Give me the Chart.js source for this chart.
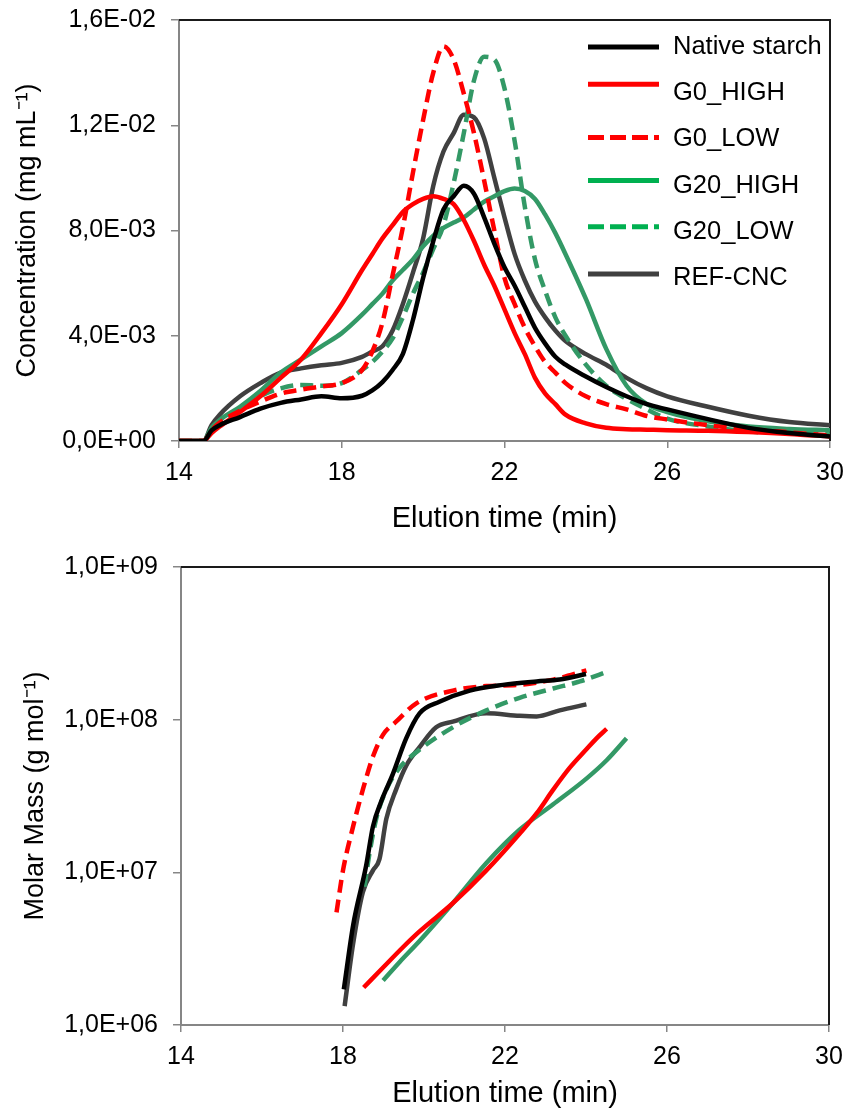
<!DOCTYPE html>
<html>
<head>
<meta charset="utf-8">
<script src="https://cdn.jsdelivr.net/npm/chart.js@4.4.1/dist/chart.umd.min.js"></script>
<style>
  body { margin: 0; background: #fff; }
  canvas { position: absolute; left: 0; }
  #conc { top: 0; }
  #mass { top: 540px; }
</style>
</head>
<body>
<canvas id="conc" width="845" height="540"></canvas>
<canvas id="mass" width="845" height="575"></canvas>
<script>
const names = ['Native starch', 'G0_HIGH', 'G0_LOW', 'G20_HIGH', 'G20_LOW', 'REF-CNC'];
const lineColors = ['#000000', '#ff0000', '#ff0000', '#339966', '#339966', '#404040'];
const keyColors = ['#000000', '#ff0000', '#ff0000', '#00b050', '#00b050', '#404040'];
const dashed = [false, false, true, false, true, false];

// concentration traces (mg/mL), one shared time grid (min)
const concTime = [14, 14.6, 14.8, 15, 15.5, 16, 16.5, 17, 17.5, 18, 18.5, 18.75, 19, 19.25, 19.5, 19.75,
  20, 20.25, 20.5, 20.75, 21, 21.25, 21.5, 21.75, 22, 22.25, 22.5, 22.75, 23, 23.25, 23.5,
  24, 24.5, 25, 25.5, 26, 27, 28, 29, 30];
const concNative = [0, 0, 0.0004, 0.0006, 0.00091, 0.00123, 0.00145, 0.00158, 0.0017, 0.00162,
  0.00172, 0.00192, 0.00224, 0.0027, 0.0033, 0.0046, 0.0062, 0.0076, 0.0088, 0.0093, 0.0097, 0.0094, 0.0085, 0.0075, 0.0066,
  0.0059, 0.0051, 0.0043, 0.0037, 0.0032, 0.0029, 0.00245, 0.00205, 0.0017, 0.0014, 0.0012, 0.00083, 0.0005, 0.0003, 0.00017];
const concG0High = [0, 0, 0.0003, 0.00055, 0.0011, 0.0017, 0.0024, 0.0031, 0.0041, 0.0052,
  0.0065, 0.0071, 0.0077, 0.0082, 0.0087, 0.009, 0.0092, 0.0093, 0.0092, 0.009, 0.0084, 0.0076, 0.0067, 0.0059, 0.005,
  0.0041, 0.0033, 0.0024, 0.0018, 0.0014, 0.001, 0.00067, 0.0005, 0.00045, 0.00043, 0.00041, 0.00039, 0.00034, 0.00027, 0.00017];
const concG0Low = [0, 0, 0.0004, 0.0007, 0.00115, 0.0015, 0.0018, 0.00195, 0.00207, 0.0022,
  0.0027, 0.0034, 0.0045, 0.0063, 0.0081, 0.0102, 0.0122, 0.014, 0.015, 0.0145, 0.0132, 0.0117, 0.0099, 0.008, 0.0062,
  0.0052, 0.0043, 0.0036, 0.003, 0.0026, 0.0022, 0.0017, 0.0014, 0.0012, 0.00095, 0.00082, 0.0006, 0.00045, 0.00033, 0.00021];
const concG20High = [0, 0, 0.0005, 0.0008, 0.0013, 0.0019, 0.0026, 0.0031, 0.0036, 0.0041,
  0.0048, 0.0052, 0.0056, 0.0061, 0.0065, 0.0069, 0.0074, 0.0078, 0.0081, 0.0083, 0.0085, 0.0088, 0.0091, 0.0093, 0.0095,
  0.0096, 0.0095, 0.0092, 0.0086, 0.0079, 0.0071, 0.0054, 0.0035, 0.0021, 0.0014, 0.0011, 0.00075, 0.00055, 0.00046, 0.00041];
const concG20Low = [0, 0, 0.0005, 0.0007, 0.0012, 0.0017, 0.002, 0.00213, 0.0021, 0.0022,
  0.0027, 0.003, 0.0034, 0.0039, 0.0047, 0.0056, 0.0064, 0.0073, 0.0082, 0.0098, 0.0117, 0.0137, 0.0146, 0.0145, 0.0134,
  0.0114, 0.0089, 0.0069, 0.0057, 0.0047, 0.004, 0.0029, 0.0021, 0.0016, 0.0012, 0.00085, 0.00055, 0.00036, 0.0003, 0.00025];
const concRef = [0, 0, 0.0006, 0.001, 0.0017, 0.0022, 0.0026, 0.00276, 0.00288, 0.00297,
  0.0032, 0.0034, 0.0036, 0.0042, 0.0052, 0.0064, 0.0077, 0.0097, 0.011, 0.0117, 0.0124, 0.0123, 0.0115, 0.01, 0.0085,
  0.0071, 0.0061, 0.0053, 0.0047, 0.0042, 0.0038, 0.0033, 0.0029, 0.0024, 0.002, 0.0017, 0.0013, 0.00096, 0.00072, 0.0006];
const concTicks = [0, 0.004, 0.008, 0.012, 0.016];

// molar mass traces (g/mol), each with its own time points
const massTimeNative = [18.02, 18.25, 18.57, 18.74, 18.94, 19.23, 19.56, 19.89, 20.38, 21.13, 21.95, 22.78, 23.35, 24.0];
const massNative = [1.71e6, 4.5e6, 1.1e7, 2.0e7, 2.9e7, 4.4e7, 7.55e7, 1.1e8, 1.31e8, 1.55e8, 1.69e8, 1.78e8, 1.83e8, 1.99e8];
const massTimeG0High = [18.51, 18.99, 19.48, 19.89, 20.71, 21.54, 22.36, 22.78, 23.19, 23.6, 24.01, 24.26, 24.51];
const massG0High = [1.76e6, 2.38e6, 3.23e6, 4.1e6, 6.27e6, 1.03e7, 1.79e7, 2.43e7, 3.48e7, 4.85e7, 6.4e7, 7.55e7, 8.7e7];
const massTimeG0Low = [17.84, 18.0, 18.25, 18.49, 18.74, 18.99, 19.31, 19.81, 20.71, 21.54, 22.36, 23.19, 24.01];
const massG0Low = [5.46e6, 1.03e7, 2.0e7, 3.48e7, 5.73e7, 7.98e7, 9.7e7, 1.28e8, 1.55e8, 1.66e8, 1.69e8, 1.83e8, 2.1e8];
const massTimeG20High = [18.99, 19.4, 19.89, 20.71, 21.54, 22.36, 23.19, 24.01, 24.51, 25.0];
const massG20High = [1.96e6, 2.59e6, 3.55e6, 6.27e6, 1.15e7, 1.9e7, 2.79e7, 4.11e7, 5.42e7, 7.55e7];
const massTimeG20Low = [18.53, 18.66, 18.82, 19.07, 19.4, 19.85, 20.71, 21.54, 22.36, 23.19, 23.85, 24.55];
const massG20Low = [8.05e6, 1.36e7, 2.24e7, 3.48e7, 4.85e7, 6.24e7, 8.91e7, 1.15e8, 1.39e8, 1.6e8, 1.78e8, 2.07e8];
const massTimeRef = [18.04, 18.25, 18.49, 18.74, 18.9, 19.07, 19.31, 19.56, 19.89, 20.3, 20.71, 21.54, 22.36, 22.78, 23.35, 24.01];
const massRef = [1.33e6, 3.41e6, 7.41e6, 1.03e7, 1.22e7, 2.24e7, 3.48e7, 4.99e7, 6.61e7, 8.91e7, 9.7e7, 1.1e8, 1.06e8, 1.05e8, 1.15e8, 1.26e8];
const massTicks = [1e6, 1e7, 1e8, 1e9];

const timeTicks = [14, 18, 22, 26, 30];

const FONT = '"Liberation Sans", Arial, sans-serif';
const AXIS_GREY = '#868686';

// "1,6E-02" style labels
function sci(v) {
  const [m, e] = v.toExponential(1).split('e');
  const n = Math.abs(+e);
  return m.replace('.', ',') + 'E' + (+e < 0 ? '-' : '+') + String(n).padStart(2, '0');
}

function makeSets(times, values) {
  return values.map((vals, i) => ({
    label: names[i],
    data: vals.map((v, k) => ({ x: (Array.isArray(times[0]) ? times[i] : times)[k], y: v })),
    borderColor: lineColors[i],
    keyColor: keyColors[i],
    borderWidth: 4.5,
    borderDash: dashed[i] ? [13, 7] : [],
    pointRadius: 0,
    cubicInterpolationMode: 'monotone',
    fill: false
  }));
}

// black frame on the top and right of the plot area
const frame = {
  id: 'frame',
  beforeDatasetsDraw(chart) {
    const { ctx, chartArea: a } = chart;
    ctx.save();
    ctx.strokeStyle = '#1a1a1a';
    ctx.lineWidth = 2;
    ctx.beginPath();
    ctx.moveTo(a.left, a.top);
    ctx.lineTo(a.right, a.top);
    ctx.lineTo(a.right, a.bottom);
    ctx.stroke();
    ctx.restore();
  }
};

// legend stacked inside the top-right corner of the plot
const keyBox = {
  id: 'keyBox',
  afterDraw(chart) {
    const ctx = chart.ctx;
    const lineOff = [0, -9, -2, -5, -5, -4];
    ctx.save();
    ctx.font = '25.5px ' + FONT;
    ctx.textBaseline = 'middle';
    chart.data.datasets.forEach((ds, i) => {
      const y = 47 + i * 46.2;
      ctx.strokeStyle = ds.keyColor;
      ctx.lineWidth = 5;
      ctx.setLineDash(ds.borderDash.length ? [16, 6] : []);
      ctx.beginPath();
      ctx.moveTo(588, y + lineOff[i]);
      ctx.lineTo(659, y + lineOff[i]);
      ctx.stroke();
      ctx.fillStyle = '#000';
      ctx.fillText(ds.label, 673, y);
    });
    ctx.restore();
  }
};

function timeAxis(height) {
  return {
    type: 'linear', min: 14, max: 30,
    afterBuildTicks: s => { s.ticks = timeTicks.map(v => ({ value: v })); },
    afterFit: s => { s.height = height; s.paddingLeft = 0; s.paddingRight = 0; },
    border: { display: true, color: AXIS_GREY, width: 2 },
    grid: { drawOnChartArea: false, drawTicks: true, tickLength: 7, color: AXIS_GREY, lineWidth: 1.5 },
    ticks: { color: '#000', padding: 10, font: { family: FONT, size: 25 }, maxRotation: 0 },
    title: { display: true, text: 'Elution time (min)', color: '#000',
      font: { family: FONT, size: 29 }, padding: { top: 0, bottom: 4 } }
  };
}

function valueAxis(width, titleText, titlePad, extra) {
  return Object.assign({
    afterFit: s => { s.width = width; s.paddingTop = 0; s.paddingBottom = 0; },
    border: { display: true, color: AXIS_GREY, width: 2 },
    grid: { drawOnChartArea: false, drawTicks: true, tickLength: 8, color: AXIS_GREY, lineWidth: 1.5 },
    ticks: { color: '#000', padding: 15, font: { family: FONT, size: 25 }, callback: v => sci(v) },
    title: { display: true, text: titleText, color: '#000',
      font: { family: FONT, size: 27 }, padding: { top: titlePad, bottom: 0 } }
  }, extra);
}

const baseOpts = {
  responsive: false,
  animation: false,
  devicePixelRatio: 1,
  plugins: { legend: { display: false }, tooltip: { enabled: false } }
};

new Chart(document.getElementById('conc'), {
  type: 'line',
  data: { datasets: makeSets(concTime, [concNative, concG0High, concG0Low, concG20High, concG20Low, concRef]) },
  options: Object.assign({}, baseOpts, {
    layout: { padding: { top: 20, right: 15, left: 0, bottom: 0 } },
    scales: {
      x: timeAxis(99),
      y: valueAxis(179, 'Concentration (mg mL\u207B\u00B9)', 11, {
        type: 'linear', min: 0, max: 0.016,
        afterBuildTicks: s => { s.ticks = concTicks.map(v => ({ value: v })); }
      })
    }
  }),
  plugins: [frame, keyBox]
});

new Chart(document.getElementById('mass'), {
  type: 'line',
  data: {
    datasets: makeSets(
      [massTimeNative, massTimeG0High, massTimeG0Low, massTimeG20High, massTimeG20Low, massTimeRef],
      [massNative, massG0High, massG0Low, massG20High, massG20Low, massRef])
  },
  options: Object.assign({}, baseOpts, {
    layout: { padding: { top: 27, right: 16, left: 0, bottom: 0 } },
    scales: {
      x: timeAxis(90),
      y: valueAxis(181, 'Molar Mass (g mol\u207B\u00B9)', 19, {
        type: 'logarithmic', min: 1e6, max: 1e9,
        afterBuildTicks: s => { s.ticks = massTicks.map(v => ({ value: v })); }
      })
    }
  }),
  plugins: [frame]
});
</script>
</body>
</html>
